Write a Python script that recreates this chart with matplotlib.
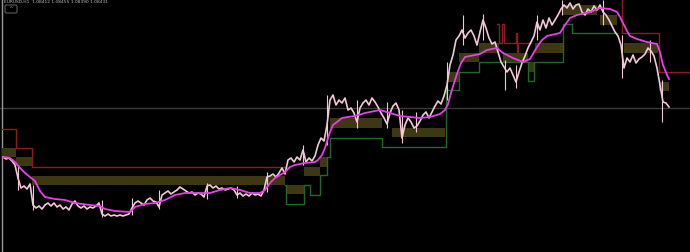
import matplotlib

matplotlib.use("Agg")
import matplotlib.pyplot as plt
import numpy as np
from matplotlib.patches import FancyBboxPatch

# close prices, one every 3 time units starting at t=3
close = [
    95, 93, 94, 91, 87, 74, 64, 66, 63, 68, 47, 44, 46, 43, 47, 49, 46, 49, 45, 47,
    43, 45, 42, 48, 51, 46, 44, 46, 43, 45, 44, 46, 49, 38, 36, 38, 36, 37, 36, 37,
    36, 37, 38, 44, 49, 51, 49, 47, 52, 54, 51, 50, 45, 57, 59, 61, 58, 60, 62, 65,
    63, 61, 59, 60, 57, 59, 58, 55, 66, 67, 64, 66, 63, 64, 62, 63, 64, 62, 57, 59,
    56, 58, 56, 59, 57, 58, 56, 62, 75, 76, 78, 75, 79, 84, 78, 92, 94, 90, 95, 92,
    102, 90, 94, 91, 96, 107, 114, 111, 127, 152, 157, 147, 152, 149, 154, 142, 144, 139, 130, 144,
    149, 152, 147, 154, 150, 145, 139, 134, 128, 139, 146, 149, 142, 114, 127, 134, 130, 124, 126, 131,
    137, 140, 134, 140, 146, 151, 148, 156, 167, 187, 197, 212, 216, 222, 214, 219, 222, 216, 207, 220,
    232, 224, 214, 208, 210, 200, 190, 185, 180, 184, 177, 170, 180, 189, 196, 204, 210, 216, 230, 222,
    232, 224, 234, 227, 232, 237, 243, 247, 244, 249, 243, 247, 248, 240, 237, 243, 240, 246, 242, 247,
    240, 237, 232, 226, 220, 216, 207, 184, 194, 190, 197, 189, 193, 195, 198, 204, 201, 196, 184, 167,
    150, 149, 145,
]

# isolated long wicks: time, low, high
wick_t = [18, 33, 102, 132, 159, 207, 237, 267, 303, 327, 357, 387, 402, 416, 447,
          463, 483, 505, 516, 537, 562, 603, 622, 650, 662]
wick_lo = [62, 42, 35, 37, 43, 53, 54, 60, 87, 107, 124, 124, 109, 120, 152,
           207, 212, 162, 164, 212, 237, 227, 174, 190, 130]
wick_hi = [87, 67, 52, 54, 62, 69, 66, 80, 107, 157, 152, 150, 142, 140, 190,
           237, 238, 192, 187, 237, 252, 252, 217, 212, 172]

ma_t = [3, 10, 15, 20, 25, 30, 35, 40, 45, 55, 65, 75, 90, 100, 105, 115, 130, 135, 145, 155,
        165, 175, 185, 210, 220, 230, 240, 250, 260, 265, 270, 275, 280, 285, 290, 295, 305, 315,
        318, 322, 325, 328, 330, 333, 337, 342, 348, 355, 365, 375, 380, 390, 400, 410, 420, 430,
        440, 445, 448, 451, 455, 458, 461, 465, 470, 480, 487, 497, 503, 513, 523, 530, 537, 542,
        547, 560, 565, 570, 577, 590, 600, 610, 617, 620, 623, 627, 630, 637, 647, 657, 660, 663,
        667, 669]
ma_val = [95, 94, 90, 84, 79, 75, 71, 61, 55, 53, 52, 49, 47, 46, 43, 41, 40, 45, 48, 49,
          52, 57, 59, 59, 62, 64, 62, 59, 59, 62, 69, 74, 77, 80, 85, 87, 89, 90,
          92, 97, 104, 114, 120, 127, 130, 134, 135, 136, 139, 141, 142, 139, 136, 135, 134, 135,
          138, 142, 148, 159, 172, 181, 189, 195, 196, 198, 202, 204, 199, 194, 190, 193, 205, 212,
          216, 219, 227, 234, 237, 240, 244, 243, 240, 235, 229, 221, 216, 213, 210, 208, 200, 187,
          177, 173]

# upper channel (red), NaN breaks the line
upper_t = [2, 16, 32, 285, 286, 497, 499, 502, 504, 516, 517, 518, 530, 531, 605, 622, 659, 690]
upper_val = [123, 104, 85, 85, np.nan, 228, 209, 228, 209, 219, 200, 209, 209, np.nan, 257, 219, 180, 180]

# lower channel (green)
lower_t = [285, 286, 304, 310, 320, 327, 330, 382, 446, 459, 479, 528, 534, 563, 572, 617]
lower_val = [67, 48, 67, 57, 77, 95, 114, 105, 162, 180, 190, 171, 190, 228, 219, 219]

# shaded zones
zone_t0 = [2, 16, 32, 286, 304, 320, 330, 392, 448, 459, 479, 503, 528, 535, 563, 600, 624, 659]
zone_t1 = [16, 32, 285, 304, 320, 327, 382, 445, 459, 479, 499, 528, 535, 563, 597, 617, 658, 669]
zone_lo = [95, 86, 67, 58, 76, 85, 124, 115, 170, 190, 199, 190, 180, 199, 237, 227, 199, 161]
zone_hi = [104, 95, 76, 67, 85, 95, 134, 124, 180, 199, 209, 199, 190, 209, 247, 237, 209, 170]

ref_level = 144

fig = plt.figure(figsize=(6.9, 2.52), dpi=100, facecolor="black")
ax = fig.add_axes([0, 0, 1, 1])
ax.set_facecolor("black")
ax.set_xlim(0, 690)
ax.set_ylim(0, 252)
ax.axis("off")

ax.axhline(ref_level, color="#3a3a3a", lw=1, zorder=1)
ax.axvline(1.5, color="#9a9a9a", lw=1, zorder=1)

for t0, t1, lo, hi in zip(zone_t0, zone_t1, zone_lo, zone_hi):
    ax.fill_between([t0, t1], lo, hi, color="#3d3713", lw=0, zorder=2)

ax.plot(upper_t, upper_val, drawstyle="steps-post", color="#8e1b22", lw=1, zorder=3)
ax.plot(lower_t, lower_val, drawstyle="steps-post", color="#1f6a26", lw=1, zorder=3)

t = 3 + 3 * np.arange(len(close))
ax.vlines(wick_t, wick_lo, wick_hi, color="#f2c8d6", lw=0.8, zorder=4)
ax.plot(t, close, color="#f2c8d6", lw=1.2, zorder=4)

ax.plot(ma_t, ma_val, color="#e640e6", lw=1.3, zorder=5)

ax.text(4, 251.8, "EURUSD,H1  1.08412 1.08455 1.08390 1.08431", color="#bbbbbb",
        fontsize=3.2, va="top", ha="left", zorder=6)
ax.add_patch(FancyBboxPatch((5, 239), 12, 8, boxstyle="round,pad=0,rounding_size=1.5",
                            fc="black", ec="#5a5a5a", lw=0.8, zorder=6))
ax.text(11, 243, "^", color="#9a9a9a", fontsize=4, ha="center", va="center", zorder=7)

fig.savefig("out.png", dpi=100, facecolor="black")
